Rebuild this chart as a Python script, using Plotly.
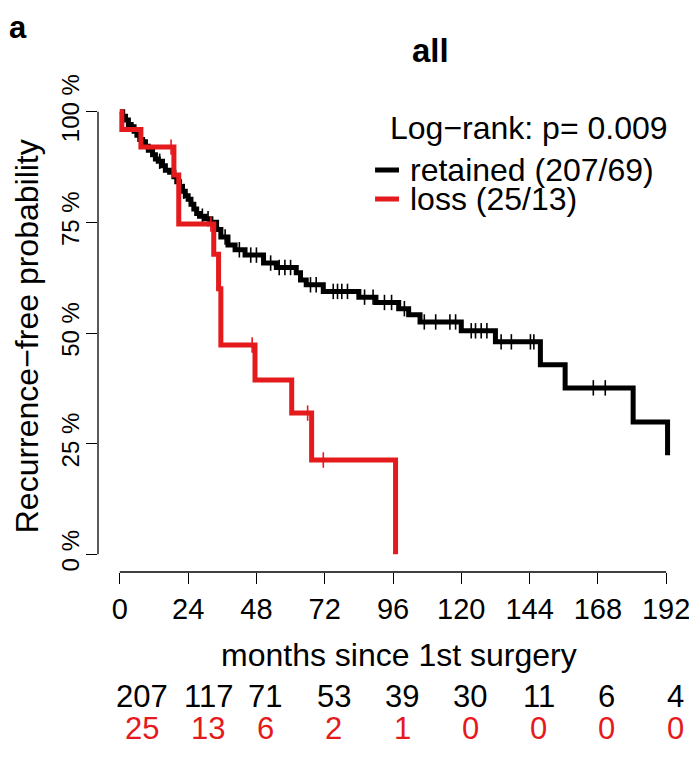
import numpy as np
import plotly.graph_objects as go

# ---- data ----
black_t = [0, 1, 2, 3, 4, 5, 6, 7, 8, 9, 10, 11.5, 12.5, 13.5, 15, 16, 17.5, 19, 20, 21, 22, 23, 24,
           25, 26, 27, 28, 30, 32, 34, 35.5, 38, 40.5, 44, 50.5, 55, 62, 63.5, 65.5, 71.5, 84, 90,
           98, 101.5, 105.5, 120, 132, 147.8, 156.5, 180.4, 192.5]
black_s = [100, 99.0, 98.1, 97.1, 96.6, 95.6, 94.7, 93.7, 93.2, 92.2, 91.3, 90.3, 89.3, 88.8, 87.8,
           86.8, 86.3, 85.3, 84.2, 83.1, 82.0, 81.0, 80.2, 79.1, 78.0, 77.0, 76.4, 75.8, 75.0, 73.4,
           71.7, 69.9, 68.8, 67.6, 65.8, 64.8, 63.6, 62.0, 60.9, 59.4, 58.1, 56.9, 55.5, 54.1, 52.5,
           50.5, 48.0, 42.8, 37.6, 29.9, 22.4]
black_censor = [14, 22.5, 29, 31, 37, 42, 46, 48, 53, 56, 58, 60, 67, 69, 75, 76.5, 78, 80, 86, 89,
                93, 95.5, 100, 107, 111, 116, 118, 123.5, 125, 127, 129, 134, 137.6, 144.3, 145.5,
                166.4, 170.6]

red_t = [0, 0.7, 7.4, 19, 20.7, 33, 34.7, 35.5, 47.5, 60.4, 67.4, 96.9]
red_s = [100, 96, 92, 85.7, 74.6, 67.8, 60, 47.3, 39.4, 31.9, 21.3, 0]
red_censor = [18, 32, 46.5, 66, 71.5]

x_ticks = [0, 24, 48, 72, 96, 120, 144, 168, 192]
y_ticks = [0, 25, 50, 75, 100]
y_labels = ["0 %", "25 %", "50 %", "75 %", "100 %"]
risk_retained = [207, 117, 71, 53, 39, 30, 11, 6, 4]
risk_loss = [25, 13, 6, 2, 1, 0, 0, 0, 0]

title = "all"
logrank = "Log\u2212rank: p= 0.009"
names = ["retained (207/69)", "loss (25/13)"]

BLACK = "#000000"
RED = "#e41a1c"
FONT = "Liberation Sans, Arial, sans-serif"
FS = 32
FS_TICK = 29
# horizontal pixel nudge of each risk-table column (layout only)
risk_nudge = [22, 20, 9, 9, 9, 9, 9, 9, 9]

# page body has an 8px margin: work in screen pixels, convert to figure pixels
OFF = 8
W, H = 697 - OFF, 757 - OFF
L, T = 98 - OFF, 94 - OFF
R = W - (690 - OFF)
B = H - (572 - OFF)
pw, ph = W - L - R, H - T - B


def px_x(sx):
    return (sx - OFF - L) / pw


def px_y(sy):
    return (H - B - (sy - OFF)) / ph


def step_at(ts, ss, x):
    i = np.searchsorted(np.array(ts), x, side="right") - 1
    return np.array(ss)[i]


fig = go.Figure()
fig.add_trace(go.Scatter(x=black_t, y=black_s, mode="lines", line=dict(color=BLACK, width=5, shape="hv"),
                         showlegend=False, hoverinfo="skip"))
fig.add_trace(go.Scatter(x=black_censor, y=step_at(black_t, black_s, black_censor), mode="markers",
                         marker=dict(symbol="line-ns", size=11, line=dict(color=BLACK, width=1.6)),
                         showlegend=False, hoverinfo="skip"))
fig.add_trace(go.Scatter(x=red_t, y=red_s, mode="lines", line=dict(color=RED, width=5, shape="hv"),
                         showlegend=False, hoverinfo="skip"))
fig.add_trace(go.Scatter(x=red_censor, y=step_at(red_t, red_s, red_censor), mode="markers",
                         marker=dict(symbol="line-ns", size=11, line=dict(color=RED, width=1.6)),
                         showlegend=False, hoverinfo="skip"))

shapes = [
    dict(type="line", xref="x", yref="paper", x0=x_ticks[0], x1=x_ticks[-1], y0=0, y1=0,
         line=dict(color=BLACK, width=1.3)),
    dict(type="line", xref="paper", yref="y", x0=0, x1=0, y0=y_ticks[0], y1=y_ticks[-1],
         line=dict(color=BLACK, width=1.3)),
    dict(type="line", xref="paper", yref="paper", x0=px_x(376), x1=px_x(400), y0=px_y(170), y1=px_y(170),
         line=dict(color=BLACK, width=5)),
    dict(type="line", xref="paper", yref="paper", x0=px_x(376), x1=px_x(400), y0=px_y(199), y1=px_y(199),
         line=dict(color=RED, width=5)),
]


def note(text, sx, sy, size=FS, color=BLACK, xanchor="center", angle=0):
    return dict(text=text, xref="paper", yref="paper", x=px_x(sx), y=px_y(sy), xanchor=xanchor,
                yanchor="middle", textangle=angle, showarrow=False,
                font=dict(size=size, family=FONT, color=color))


ann = [
    note("<b>a</b>", 18, 28, size=31),
    note("<b>" + title + "</b>", 432, 50, size=33),
    note(logrank, 389, 128, xanchor="left"),
    note(names[0], 409, 170, xanchor="left"),
    note(names[1], 409, 199, xanchor="left"),
    note("months since 1st surgery", 400, 655),
    note("Recurrence\u2212free probability", 27, 336, angle=-90),
]
for xt, a, b, nd in zip(x_ticks, risk_retained, risk_loss, risk_nudge):
    ann.append(dict(text=str(a), xref="x", yref="paper", x=xt, y=px_y(697), xshift=nd, showarrow=False,
                    xanchor="center", yanchor="middle", font=dict(size=31, family=FONT, color=BLACK)))
    ann.append(dict(text=str(b), xref="x", yref="paper", x=xt, y=px_y(728), xshift=nd, showarrow=False,
                    xanchor="center", yanchor="middle", font=dict(size=31, family=FONT, color=RED)))

fig.update_layout(
    width=W, height=H, margin=dict(l=L, r=R, t=T, b=B),
    plot_bgcolor="white", paper_bgcolor="white",
    shapes=shapes, annotations=ann,
    font=dict(family=FONT, size=FS, color=BLACK),
    xaxis=dict(range=[-7.68, 199.68], tickvals=x_ticks, ticktext=[str(v) for v in x_ticks],
               showgrid=False, zeroline=False, showline=False, ticks="outside", ticklen=11,
               tickwidth=1.3, tickcolor=BLACK, tickfont=dict(size=FS_TICK, family=FONT, color=BLACK)),
    yaxis=dict(range=[-4, 104], tickvals=y_ticks, ticktext=y_labels, tickangle=-90,
               showgrid=False, zeroline=False, showline=False, ticks="outside", ticklen=11,
               tickwidth=1.3, tickcolor=BLACK, ticklabelstandoff=-3,
               tickfont=dict(size=24, family=FONT, color=BLACK)),
)

fig.write_html("out.html")
